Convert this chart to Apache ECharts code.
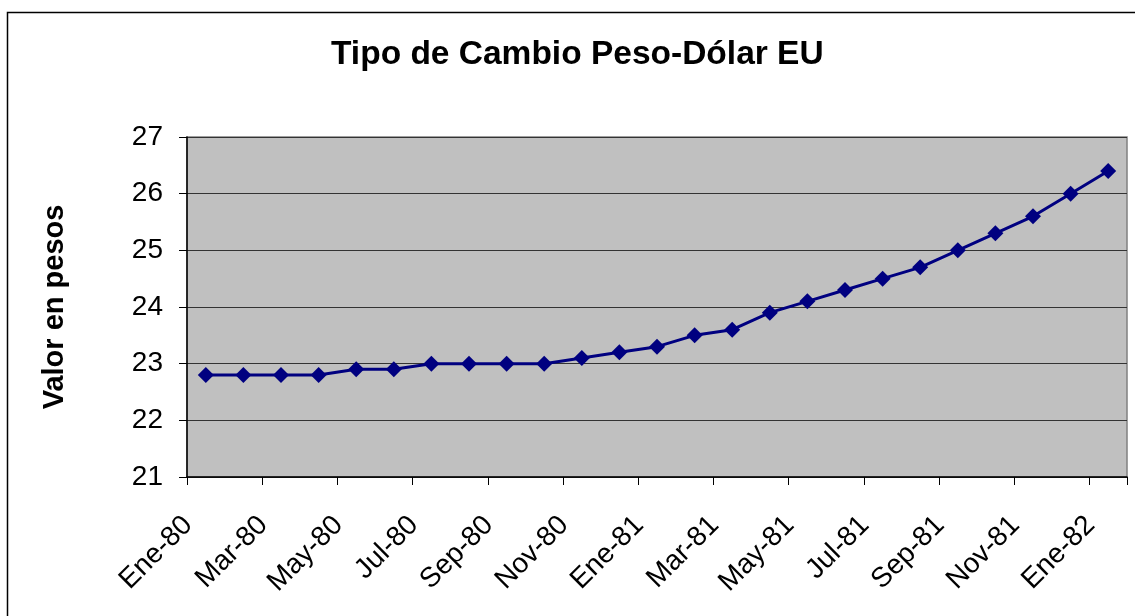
<!DOCTYPE html>
<html>
<head>
<meta charset="utf-8">
<script src="https://cdn.jsdelivr.net/npm/echarts@6/dist/echarts.min.js"></script>
<style>
html,body{margin:0;padding:0;background:#fff;}
#chart{width:1135px;height:616px;}
</style>
</head>
<body>
<div id="chart"></div>
<script>
var titleText = 'Tipo de Cambio Peso-Dólar EU';
var yAxisTitle = 'Valor en pesos';
var categories = ['Ene-80','Feb-80','Mar-80','Abr-80','May-80','Jun-80','Jul-80','Ago-80','Sep-80','Oct-80','Nov-80','Dic-80',
                  'Ene-81','Feb-81','Mar-81','Abr-81','May-81','Jun-81','Jul-81','Ago-81','Sep-81','Oct-81','Nov-81','Dic-81',
                  'Ene-82'];
var values = [22.8,22.8,22.8,22.8,22.9,22.9,23.0,23.0,23.0,23.0,23.1,23.2,
              23.3,23.5,23.6,23.9,24.1,24.3,24.5,24.7,25.0,25.3,25.6,26.0,
              26.4];
var yMin = 21, yMax = 27, yStep = 1;

var chart = echarts.init(document.getElementById('chart'), null, {renderer:'canvas'});
var font = 'Liberation Sans, Arial, sans-serif';
chart.setOption({
  animation: false,
  backgroundColor: '#ffffff',
  title: {
    text: titleText,
    left: 326, top: 33,
    textStyle: {fontFamily: font, fontSize: 33.5, fontWeight: 'bold', color: '#000'}
  },
  graphic: [{
    type: 'rect', z: -10, silent: true,
    shape: {x: 7.5, y: 12.5, width: 1200, height: 700},
    style: {fill: 'none', stroke: '#000', lineWidth: 1.5}
  }],
  grid: {
    left: 187, top: 137, right: 8, bottom: 139,
    show: true, backgroundColor: '#c0c0c0', borderColor: '#808080', borderWidth: 1.5
  },
  xAxis: {
    type: 'category',
    data: categories,
    boundaryGap: true,
    axisLine: {lineStyle: {color: '#000', width: 1.5}},
    axisTick: {show: true, interval: 1, length: 8, lineStyle: {color: '#000', width: 1}},
    axisLabel: {interval: 1, rotate: 45, margin: 26, padding: [0, 25, 0, 0],
                color: '#000', fontFamily: font, fontSize: 28},
    splitLine: {show: false}
  },
  yAxis: {
    type: 'value',
    min: yMin, max: yMax, interval: yStep,
    name: yAxisTitle,
    nameLocation: 'middle', nameRotate: 90, nameGap: 118,
    nameTextStyle: {fontFamily: font, fontSize: 29, fontWeight: 'bold', color: '#000'},
    axisLine: {show: true, lineStyle: {color: '#000', width: 1.5}},
    axisTick: {show: true, length: 8, lineStyle: {color: '#000', width: 1}},
    axisLabel: {margin: 24, color: '#000', fontFamily: font, fontSize: 28},
    splitLine: {show: true, lineStyle: {color: '#333', width: 1}}
  },
  series: [{
    type: 'line',
    data: values,
    symbol: 'diamond',
    symbolSize: 16,
    itemStyle: {color: '#000080'},
    lineStyle: {color: '#000080', width: 3}
  }]
});
</script>
</body>
</html>
